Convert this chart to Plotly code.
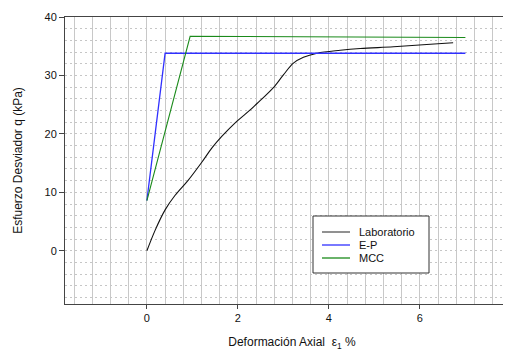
import plotly.graph_objects as go

# ---- data ----
lab_x = [0, 0.18, 0.40, 0.62, 0.91, 1.21, 1.43, 1.65, 1.94, 2.27, 2.42, 2.60, 2.78,
         3.0, 3.22, 3.44, 3.74, 4.25, 4.69, 5.42, 6.15, 6.73]
lab_y = [0, 3.5, 7.0, 9.5, 12.1, 15.2, 17.6, 19.6, 21.9, 24.1, 25.2, 26.5, 27.9,
         30.1, 32.1, 33.1, 33.8, 34.3, 34.6, 34.9, 35.3, 35.6]
ep_x = [0, 0.40, 7.0]
ep_y = [8.6, 33.8, 33.8]
mcc_x = [0, 0.95, 7.0]
mcc_y = [8.6, 36.7, 36.5]

x_ticks = [0, 2, 4, 6, 8]
y_ticks = [0, 10, 20, 30, 40]
legend_names = ["Laboratorio", "E-P", "MCC"]

# page body has an 8px margin: layout pixel = screen pixel - 8
OFF = 8
W, H = 511, 353
ML, MR, MT, MB = 65 - OFF, 0, 17 - OFF, H - (304 - OFF)

fig = go.Figure()
fig.add_trace(go.Scatter(x=lab_x, y=lab_y, mode="lines",
                         line=dict(color="#111111", width=1.1, shape="spline", smoothing=1.0),
                         name=legend_names[0]))
fig.add_trace(go.Scatter(x=ep_x, y=ep_y, mode="lines", line=dict(color="#3030ff", width=1.3),
                         name=legend_names[1]))
fig.add_trace(go.Scatter(x=mcc_x, y=mcc_y, mode="lines", line=dict(color="#1a8a1a", width=1.1),
                         name=legend_names[2]))

font = "Liberation Sans, Arial, sans-serif"

fig.update_layout(
    width=W, height=H,
    margin=dict(l=ML, r=MR, t=MT, b=MB, autoexpand=False),
    paper_bgcolor="white", plot_bgcolor="white",
    showlegend=False,
    font=dict(family=font, size=11, color="#111111"),
)

pw, ph = W - ML - MR, H - MT - MB
x_left = -1.8
x_right = x_left + pw / 45.5

fig.update_xaxes(
    range=[x_left, x_right], tickvals=x_ticks, ticktext=[str(v) for v in x_ticks],
    showgrid=False, zeroline=False, automargin=False,
    showline=True, linecolor="#444444", linewidth=1, mirror=True,
    ticks="outside", ticklen=4, tickcolor="#444444",
    minor=dict(dtick=0.4, tick0=0, showgrid=True, gridcolor="#c8c8c8", gridwidth=1,
               griddash="solid", ticks=""),
    title=dict(text="Deformación Axial  ε<sub>1</sub> %", font=dict(size=12), standoff=14),
    tickfont=dict(size=11),
)
fig.update_yaxes(
    range=[-9.1, 40], tickvals=y_ticks, ticktext=[str(v) for v in y_ticks],
    showgrid=False, zeroline=False, automargin=False,
    showline=True, linecolor="#444444", linewidth=1, mirror=False,
    ticks="outside", ticklen=5, tickcolor="#444444",
    minor=dict(dtick=2, tick0=0, showgrid=True, gridcolor="#c6c6c6", gridwidth=1,
               griddash="2px,3px", ticks=""),
    title=dict(text="Esfuerzo Desviador q (kPa)", font=dict(size=12), standoff=19),
    tickfont=dict(size=11),
)

# ---- manual legend box (screen pixel positions converted to paper coords) ----
def px(x):
    return (x - OFF - ML) / pw
def py(y):
    return (H - MB - (y - OFF)) / ph

shapes = [dict(type="rect", xref="paper", yref="paper",
               x0=px(313), x1=px(429), y0=py(273), y1=py(216),
               line=dict(color="#333333", width=1), fillcolor="white", layer="above")]
colors = ["#555555", "#3030ff", "#1a8a1a"]
rows = [232, 245, 258]
annotations = []
for name, c, r in zip(legend_names, colors, rows):
    shapes.append(dict(type="line", xref="paper", yref="paper",
                       x0=px(322), x1=px(350), y0=py(r), y1=py(r),
                       line=dict(color=c, width=1.3), layer="above"))
    annotations.append(dict(xref="paper", yref="paper", x=px(357), y=py(r),
                            text=name, showarrow=False, xanchor="left", yanchor="middle",
                            font=dict(size=11, family=font, color="#111111")))
fig.update_layout(shapes=shapes, annotations=annotations)

fig.write_html("out.html")
